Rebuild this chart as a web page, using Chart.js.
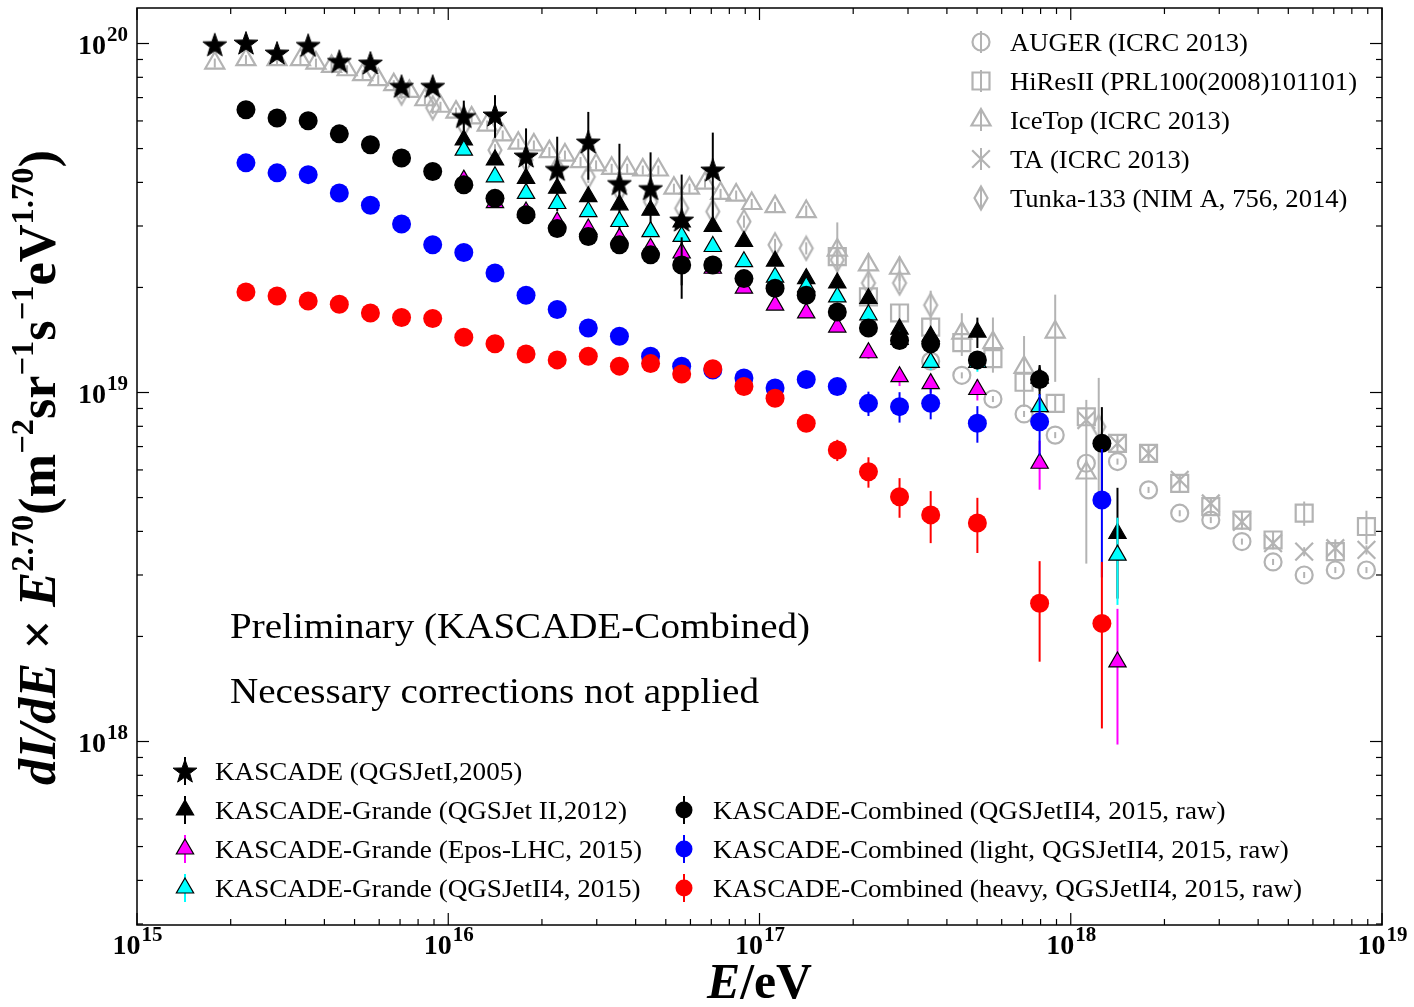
<!DOCTYPE html>
<html>
<head>
<meta charset="utf-8">
<script src="https://cdn.jsdelivr.net/npm/chart.js@4.4.0/dist/chart.umd.min.js"></script>
<style>
html,body{margin:0;padding:0;background:#fff;}
#wrap{position:relative;width:1414px;height:1007px;}
</style>
</head>
<body>
<div id="wrap"><canvas id="c" width="1414" height="1007"></canvas></div>
<script>
// ---------------- DATA ----------------
const xTickExp = ['15', '16', '17', '18', '19'];
const yTickExp = ['18', '19', '20'];

// KASCADE (QGSJetI, 2005)
const kascadeE = [1.778e15, 2.239e15, 2.818e15, 3.548e15, 4.467e15, 5.623e15, 7.079e15, 8.913e15, 1.122e16, 1.413e16, 1.778e16, 2.239e16, 2.818e16, 3.548e16, 4.467e16, 5.623e16, 7.079e16];
const kascadeFlux = [9.92e19, 1.003e20, 9.39e19, 9.88e19, 8.89e19, 8.79e19, 7.54e19, 7.54e19, 6.18e19, 6.24e19, 4.76e19, 4.36e19, 5.22e19, 3.97e19, 3.84e19, 3.12e19, 4.34e19];
const kascadeErr = [0, 0, 0, 0, 0, 0, 0.02, 0.02, 0.11, 0.14, 0.2, 0.24, 0.22, 0.3, 0.27, 0.35, 0.28];

// KASCADE-Grande energies (shared by the three Grande series)
const grandeE = [1.122e16, 1.413e16, 1.778e16, 2.239e16, 2.818e16, 3.548e16, 4.467e16, 5.623e16, 7.079e16, 8.913e16, 1.122e17, 1.413e17, 1.778e17, 2.239e17, 2.818e17, 3.548e17, 5.012e17, 7.943e17, 1.413e18];
const grandeQ2Flux = [5.29e19, 4.64e19, 4.11e19, 3.85e19, 3.64e19, 3.45e19, 3.33e19, 3.08e19, 2.99e19, 2.71e19, 2.38e19, 2.12e19, 2.06e19, 1.86e19, 1.52e19, 1.45e19, 1.49e19, 1.10e19, 3.95e18];
const grandeQ2Err = [0.03, 0.03, 0.03, 0.03, 0.03, 0.03, 0.03, 0.03, 0.03, 0.03, 0.03, 0.03, 0.04, 0.04, 0.05, 0.05, 0.1, 0.08, 0.35];
const grandeEposFlux = [4.06e19, 3.50e19, 3.29e19, 3.08e19, 2.94e19, 2.77e19, 2.59e19, 2.51e19, 2.27e19, 1.99e19, 1.78e19, 1.69e19, 1.54e19, 1.30e19, 1.11e19, 1.06e19, 1.02e19, 6.27e18, 1.69e18];
const grandeEposErr = [0.02, 0.02, 0.02, 0.02, 0.02, 0.02, 0.02, 0.02, 0.02, 0.02, 0.02, 0.02, 0.03, 0.04, 0.06, 0.06, 0.07, 0.16, 0.42];
const grandeQ4Flux = [4.95e19, 4.15e19, 3.72e19, 3.48e19, 3.30e19, 3.09e19, 2.89e19, 2.80e19, 2.62e19, 2.37e19, 2.14e19, 2.01e19, 1.88e19, 1.67e19, 1.42e19, 1.22e19, 1.22e19, 9.11e18, 3.42e18];
const grandeQ4Err = [0.02, 0.02, 0.02, 0.02, 0.02, 0.02, 0.02, 0.02, 0.02, 0.02, 0.02, 0.02, 0.03, 0.03, 0.04, 0.05, 0.06, 0.08, 0.28];

// KASCADE-Combined energies (shared)
const combinedE = [2.239e15, 2.818e15, 3.548e15, 4.467e15, 5.623e15, 7.079e15, 8.913e15, 1.122e16, 1.413e16, 1.778e16, 2.239e16, 2.818e16, 3.548e16, 4.467e16, 5.623e16, 7.079e16, 8.913e16, 1.122e17, 1.413e17, 1.778e17, 2.239e17, 2.818e17, 3.548e17, 5.012e17, 7.943e17, 1.259e18];
const combinedFlux = [6.46e19, 6.12e19, 6.01e19, 5.51e19, 5.13e19, 4.70e19, 4.30e19, 3.94e19, 3.60e19, 3.23e19, 2.95e19, 2.80e19, 2.65e19, 2.48e19, 2.32e19, 2.32e19, 2.12e19, 1.99e19, 1.90e19, 1.70e19, 1.53e19, 1.41e19, 1.38e19, 1.24e19, 1.09e19, 7.15e18];
const combinedErr = [0, 0, 0, 0, 0, 0, 0, 0, 0, 0, 0, 0, 0, 0, 0.2, 0.03, 0.03, 0.03, 0.03, 0.03, 0.04, 0.05, 0.05, 0.06, 0.1, 0.27];
const lightFlux = [4.55e19, 4.26e19, 4.21e19, 3.73e19, 3.44e19, 3.04e19, 2.65e19, 2.52e19, 2.20e19, 1.90e19, 1.73e19, 1.53e19, 1.45e19, 1.27e19, 1.19e19, 1.16e19, 1.10e19, 1.03e19, 1.09e19, 1.04e19, 9.31e18, 9.11e18, 9.31e18, 8.16e18, 8.25e18, 4.92e18];
const lightErr = [0, 0, 0, 0, 0, 0, 0, 0, 0, 0, 0, 0, 0, 0, 0, 0, 0, 0.02, 0.02, 0.03, 0.08, 0.1, 0.1, 0.12, 0.2, 0.4];
const heavyFlux = [1.94e19, 1.89e19, 1.83e19, 1.79e19, 1.69e19, 1.64e19, 1.63e19, 1.44e19, 1.38e19, 1.29e19, 1.24e19, 1.27e19, 1.19e19, 1.21e19, 1.13e19, 1.17e19, 1.04e19, 9.63e18, 8.16e18, 6.84e18, 5.93e18, 5.03e18, 4.46e18, 4.23e18, 2.49e18, 2.18e18];
const heavyErr = [0, 0, 0, 0, 0, 0, 0, 0, 0, 0, 0, 0, 0, 0, 0, 0, 0, 0, 0.03, 0.07, 0.1, 0.13, 0.17, 0.18, 0.32, 0.5];

// AUGER (ICRC 2013)
const augerE = [3.548e17, 4.467e17, 5.623e17, 7.079e17, 8.913e17, 1.122e18, 1.413e18, 1.778e18, 2.239e18, 2.818e18, 3.548e18, 4.467e18, 5.623e18, 7.079e18, 8.913e18];
const augerFlux = [1.23e19, 1.12e19, 9.58e18, 8.68e18, 7.55e18, 6.27e18, 6.34e18, 5.26e18, 4.51e18, 4.31e18, 3.74e18, 3.27e18, 3.00e18, 3.10e18, 3.10e18];
const augerErr = [0.02, 0.02, 0.02, 0.02, 0.02, 0.02, 0.02, 0.02, 0.02, 0.02, 0.02, 0.02, 0.02, 0.02, 0.02];

// HiResII
const hiresE = [1.778e17, 2.239e17, 2.818e17, 3.548e17, 4.467e17, 5.623e17, 7.079e17, 8.913e17, 1.122e18, 1.413e18, 1.778e18, 2.239e18, 2.818e18, 3.548e18, 4.467e18, 5.623e18, 7.079e18, 8.913e18];
const hiresFlux = [2.45e19, 1.88e19, 1.69e19, 1.54e19, 1.39e19, 1.25e19, 1.07e19, 9.31e18, 8.52e18, 7.15e18, 6.69e18, 5.49e18, 4.71e18, 4.31e18, 3.78e18, 4.51e18, 3.50e18, 4.13e18];
const hiresErr = [0.06, 0.06, 0.06, 0.06, 0.06, 0.06, 0.06, 0.06, 0.06, 0.06, 0.06, 0.06, 0.06, 0.06, 0.06, 0.08, 0.06, 0.11];

// IceTop (ICRC 2013)
const icetopE = [1.778e15, 2.239e15, 2.818e15, 3.350e15, 3.758e15, 4.217e15, 4.732e15, 5.309e15, 5.957e15, 6.683e15, 7.499e15, 8.414e15, 9.441e15, 1.059e16, 1.189e16, 1.334e16, 1.496e16, 1.679e16, 1.884e16, 2.113e16, 2.371e16, 2.661e16, 2.985e16, 3.350e16, 3.758e16, 4.217e16, 4.732e16, 5.309e16, 5.957e16, 6.683e16, 7.499e16, 8.414e16, 9.441e16, 1.122e17, 1.413e17, 1.778e17, 2.239e17, 2.818e17, 4.467e17, 5.623e17, 7.079e17, 8.913e17, 1.122e18];
const icetopFlux = [8.79e19, 8.99e19, 8.99e19, 8.99e19, 8.79e19, 8.60e19, 8.41e19, 8.14e19, 7.88e19, 7.62e19, 7.29e19, 6.90e19, 6.61e19, 6.36e19, 6.12e19, 5.84e19, 5.47e19, 5.18e19, 5.12e19, 4.90e19, 4.79e19, 4.59e19, 4.49e19, 4.39e19, 4.39e19, 4.34e19, 4.34e19, 3.85e19, 3.85e19, 3.98e19, 3.72e19, 3.68e19, 3.48e19, 3.41e19, 3.30e19, 2.56e19, 2.32e19, 2.27e19, 1.48e19, 1.39e19, 1.18e19, 1.49e19, 5.88e18];
const icetopErr = [0.03, 0.03, 0.03, 0.03, 0.03, 0.03, 0.03, 0.03, 0.03, 0.03, 0.03, 0.03, 0.03, 0.03, 0.03, 0.03, 0.03, 0.03, 0.03, 0.03, 0.03, 0.03, 0.03, 0.03, 0.03, 0.03, 0.03, 0.03, 0.03, 0.03, 0.03, 0.03, 0.03, 0.03, 0.04, 0.2, 0.08, 0.08, 0.14, 0.18, 0.23, 0.28, [0.45, 0.62]];

// TA (ICRC 2013)
const taE = [1.122e18, 1.413e18, 1.778e18, 2.239e18, 2.818e18, 3.548e18, 4.467e18, 5.623e18, 7.079e18, 8.913e18];
const taFlux = [8.34e18, 7.15e18, 6.69e18, 5.62e18, 4.81e18, 4.26e18, 3.70e18, 3.50e18, 3.58e18, 3.54e18];
const taErr = [0.03, 0.03, 0.03, 0.03, 0.03, 0.03, 0.03, 0.03, 0.06, 0.03];

// Tunka-133
const tunkaE = [7.079e15, 8.913e15, 1.122e16, 1.413e16, 1.778e16, 2.239e16, 2.818e16, 3.548e16, 4.467e16, 5.623e16, 7.079e16, 8.913e16, 1.122e17, 1.413e17, 1.778e17, 2.239e17, 2.818e17, 3.548e17, 1.230e18];
const tunkaFlux = [7.21e19, 6.54e19, 5.84e19, 4.95e19, 4.64e19, 4.40e19, 4.15e19, 3.80e19, 3.52e19, 3.37e19, 3.30e19, 3.09e19, 2.65e19, 2.59e19, 2.40e19, 2.06e19, 2.06e19, 1.78e19, 7.98e18];
const tunkaErr = [0.04, 0.04, 0.04, 0.04, 0.04, 0.04, 0.04, 0.04, 0.04, 0.04, 0.04, 0.04, 0.04, 0.04, 0.05, 0.05, 0.05, 0.1, 0.38];

// ---------------- STYLE / HELPERS ----------------
const SERIF = '"Liberation Serif", "DejaVu Serif", serif';
const GRAY = '#b3b3b3';

function makeCanvas(w, h, draw) {
  const c = document.createElement('canvas');
  c.width = w; c.height = h;
  draw(c.getContext('2d'));
  return c;
}
const starImg = makeCanvas(28, 28, g => {
  g.beginPath();
  for (let i = 0; i < 10; i++) {
    const r = i % 2 === 0 ? 12.5 : 5.0;
    const a = -Math.PI / 2 + i * Math.PI / 5;
    const px = 14 + r * Math.cos(a), py = 15 + r * Math.sin(a);
    if (i === 0) g.moveTo(px, py); else g.lineTo(px, py);
  }
  g.closePath();
  g.fillStyle = '#000'; g.fill();
  g.lineWidth = 1; g.strokeStyle = '#000'; g.stroke();
});
const diamondImg = makeCanvas(18, 28, g => {
  g.beginPath();
  g.moveTo(9, 2.5); g.lineTo(15.5, 14); g.lineTo(9, 25.5); g.lineTo(2.5, 14);
  g.closePath();
  g.strokeStyle = GRAY; g.lineWidth = 2.2; g.stroke();
});

function mk(label, E, F, errs, style) {
  return Object.assign({
    label: label,
    data: E.map((e, i) => ({ x: e, y: F[i] })),
    errs: errs,
    showLine: false,
  }, style);
}

const datasets = [
  mk('KASCADE-Combined (heavy, QGSJetII4, 2015, raw)', combinedE, heavyFlux, heavyErr,
     { pointStyle: 'circle', pointRadius: 9.5, backgroundColor: '#ff0000', borderColor: '#ff0000', borderWidth: 0, errColor: '#ff0000', order: 1 }),
  mk('KASCADE-Combined (light, QGSJetII4, 2015, raw)', combinedE, lightFlux, lightErr,
     { pointStyle: 'circle', pointRadius: 9.5, backgroundColor: '#0000ff', borderColor: '#0000ff', borderWidth: 0, errColor: '#0000ff', order: 2 }),
  mk('KASCADE-Combined (QGSJetII4, 2015, raw)', combinedE, combinedFlux, combinedErr,
     { pointStyle: 'circle', pointRadius: 9.5, backgroundColor: '#000000', borderColor: '#000000', borderWidth: 0, errColor: '#000000', order: 3 }),
  mk('KASCADE-Grande (QGSJetII4, 2015)', grandeE, grandeQ4Flux, grandeQ4Err,
     { pointStyle: 'triangle', pointRadius: 10, backgroundColor: '#00ffff', borderColor: '#000000', borderWidth: 1.2, errColor: '#00ffff', order: 4 }),
  mk('KASCADE-Grande (Epos-LHC, 2015)', grandeE, grandeEposFlux, grandeEposErr,
     { pointStyle: 'triangle', pointRadius: 10, backgroundColor: '#ff00ff', borderColor: '#000000', borderWidth: 1.2, errColor: '#ff00ff', order: 5 }),
  mk('KASCADE (QGSJetI,2005)', kascadeE, kascadeFlux, kascadeErr,
     { pointStyle: starImg, pointRadius: 12, backgroundColor: '#000', borderColor: '#000', borderWidth: 1, errColor: '#000000', order: 6 }),
  mk('KASCADE-Grande (QGSJet II,2012)', grandeE, grandeQ2Flux, grandeQ2Err,
     { pointStyle: 'triangle', pointRadius: 10, backgroundColor: '#000000', borderColor: '#000000', borderWidth: 1.2, errColor: '#000000', order: 7 }),
  mk('IceTop (ICRC 2013)', icetopE, icetopFlux, icetopErr,
     { pointStyle: 'triangle', pointRadius: 11, backgroundColor: 'rgba(0,0,0,0)', borderColor: GRAY, borderWidth: 2.2, errColor: GRAY, order: 8 }),
  mk('Tunka-133 (NIM A, 756, 2014)', tunkaE, tunkaFlux, tunkaErr,
     { pointStyle: diamondImg, pointRadius: 11, backgroundColor: 'rgba(0,0,0,0)', borderColor: GRAY, borderWidth: 2.2, errColor: GRAY, order: 9 }),
  mk('HiResII (PRL100(2008)101101)', hiresE, hiresFlux, hiresErr,
     { pointStyle: 'rect', pointRadius: 12, backgroundColor: 'rgba(0,0,0,0)', borderColor: GRAY, borderWidth: 2.2, errColor: GRAY, order: 10 }),
  mk('AUGER (ICRC 2013)', augerE, augerFlux, augerErr,
     { pointStyle: 'circle', pointRadius: 8.5, backgroundColor: 'rgba(0,0,0,0)', borderColor: GRAY, borderWidth: 2.2, errColor: GRAY, order: 11 }),
  mk('TA (ICRC 2013)', taE, taFlux, taErr,
     { pointStyle: 'crossRot', pointRadius: 12.5, backgroundColor: 'rgba(0,0,0,0)', borderColor: GRAY, borderWidth: 2.2, errColor: GRAY, order: 12 }),
];
datasets.forEach(d => { d.pointHoverRadius = d.pointRadius; d.pointBorderWidth = d.borderWidth; });

const legendGray = ['AUGER (ICRC 2013)', 'HiResII (PRL100(2008)101101)', 'IceTop (ICRC 2013)', 'TA (ICRC 2013)', 'Tunka-133 (NIM A, 756, 2014)'];
const legendLeft = ['KASCADE (QGSJetI,2005)', 'KASCADE-Grande (QGSJet II,2012)', 'KASCADE-Grande (Epos-LHC, 2015)', 'KASCADE-Grande (QGSJetII4, 2015)'];
const legendRight = ['KASCADE-Combined (QGSJetII4, 2015, raw)', 'KASCADE-Combined (light, QGSJetII4, 2015, raw)', 'KASCADE-Combined (heavy, QGSJetII4, 2015, raw)'];

// ---------------- PLUGINS ----------------
const errorBars = {
  id: 'errorBars',
  beforeDatasetDraw(chart, args) {
    const ds = chart.data.datasets[args.index];
    if (!ds.errs) return;
    const ctx = chart.ctx, a = chart.chartArea, xs = chart.scales.x, ys = chart.scales.y;
    ctx.save();
    ctx.beginPath(); ctx.rect(a.left, a.top, a.right - a.left, a.bottom - a.top); ctx.clip();
    ctx.strokeStyle = ds.errColor; ctx.lineWidth = 2;
    ds.data.forEach((p, i) => {
      const e = ds.errs[i];
      if (!e) return;
      const lo = Array.isArray(e) ? e[0] : e, hi = Array.isArray(e) ? e[1] : e;
      const px = xs.getPixelForValue(p.x);
      const top = ys.getPixelForValue(p.y * (1 + hi));
      const bot = lo < 1 ? ys.getPixelForValue(p.y * (1 - lo)) : a.bottom;
      ctx.beginPath(); ctx.moveTo(px, top); ctx.lineTo(px, bot); ctx.stroke();
    });
    ctx.restore();
  }
};

function runFont(r, B) { const sz = r[2] ? B * 0.62 : B; return r[1] + ' ' + sz + 'px ' + SERIF; }
function runsWidth(ctx, runs, B) { let w = 0; runs.forEach(r => { ctx.font = runFont(r, B); w += ctx.measureText(r[0]).width; }); return w; }
function drawRuns(ctx, runs, B) {
  let x = 0;
  runs.forEach(r => {
    ctx.font = runFont(r, B);
    ctx.fillText(r[0], x, r[2] ? -B * 0.42 : 0);
    x += ctx.measureText(r[0]).width;
  });
}
function fitText(ctx, text, x, y, font, target) {
  ctx.font = font;
  const w = ctx.measureText(text).width;
  ctx.save(); ctx.translate(x, y); ctx.scale(target / w, 1); ctx.fillText(text, 0, 0); ctx.restore();
}

function legendMarker(ctx, ds, x, y, lineHalf) {
  ctx.save();
  ctx.strokeStyle = ds.errColor; ctx.lineWidth = 2;
  ctx.beginPath(); ctx.moveTo(x, y - lineHalf); ctx.lineTo(x, y + lineHalf); ctx.stroke();
  ctx.fillStyle = ds.backgroundColor; ctx.strokeStyle = ds.borderColor; ctx.lineWidth = ds.borderWidth;
  const r = ds.pointStyle === 'circle' && ds.errColor !== GRAY ? 8.5 : ds.pointRadius;
  Chart.helpers.drawPoint(ctx, { pointStyle: ds.pointStyle, radius: r, rotation: 0, borderWidth: ds.borderWidth }, x, y);
  ctx.restore();
}

function drawLegend(ctx, labels, mx, tx, y0, dy, targetW, lineHalf) {
  const font = '25px ' + SERIF;
  ctx.font = font;
  let maxW = 0;
  labels.forEach(l => { maxW = Math.max(maxW, ctx.measureText(l).width); });
  const sx = targetW / maxW;
  labels.forEach((l, i) => {
    const ds = datasets.find(d => d.label === l);
    const y = y0 + i * dy;
    legendMarker(ctx, ds, mx, y, lineHalf);
    ctx.fillStyle = '#000';
    ctx.font = font;
    ctx.save(); ctx.translate(tx, y + 9); ctx.scale(sx, 1); ctx.fillText(l, 0, 0); ctx.restore();
  });
}

const decor = {
  id: 'decor',
  afterDatasetsDraw(chart) {
    const ctx = chart.ctx, a = chart.chartArea, xs = chart.scales.x, ys = chart.scales.y;
    ctx.save();
    // frame
    ctx.strokeStyle = '#000'; ctx.lineWidth = 1.5;
    ctx.strokeRect(a.left, a.top, a.right - a.left, a.bottom - a.top);
    ctx.lineWidth = 1.2;
    const seg = (x1, y1, x2, y2) => { ctx.beginPath(); ctx.moveTo(x1, y1); ctx.lineTo(x2, y2); ctx.stroke(); };
    // x ticks (major + minor), inward on top and bottom
    xTickExp.forEach(ex => {
      const d = Number(ex);
      for (let m = 1; m <= 9; m++) {
        const v = m * Math.pow(10, d);
        if (v > xs.max * 1.0001) break;
        const px = xs.getPixelForValue(v), L = m === 1 ? 12 : 6;
        seg(px, a.bottom, px, a.bottom - L); seg(px, a.top, px, a.top + L);
      }
    });
    // y ticks
    ['17'].concat(yTickExp).forEach(ex => {
      const d = Number(ex);
      for (let m = 1; m <= 9; m++) {
        const v = m * Math.pow(10, d);
        if (v < ys.min || v > ys.max) continue;
        const py = ys.getPixelForValue(v), L = m === 1 ? 12 : 6;
        seg(a.left, py, a.left + L, py); seg(a.right, py, a.right - L, py);
      }
    });
    // tick labels
    ctx.fillStyle = '#000';
    const bigF = 'bold 28px ' + SERIF, supF = 'bold 21px ' + SERIF;
    xTickExp.forEach(ex => {
      const px = xs.getPixelForValue(Math.pow(10, Number(ex)));
      ctx.font = bigF; const w1 = ctx.measureText('10').width;
      ctx.font = supF; const w2 = ctx.measureText(ex).width;
      const x0 = px - (w1 + w2) / 2;
      ctx.font = bigF; ctx.fillText('10', x0, 954);
      ctx.font = supF; ctx.fillText(ex, x0 + w1 + 1, 941);
    });
    yTickExp.forEach(ex => {
      const py = ys.getPixelForValue(Math.pow(10, Number(ex)));
      ctx.font = bigF; const w1 = ctx.measureText('10').width;
      ctx.font = supF; const w2 = ctx.measureText(ex).width;
      const x0 = 128 - w1 - w2 - 1;
      ctx.font = bigF; ctx.fillText('10', x0, py + 10);
      ctx.font = supF; ctx.fillText(ex, x0 + w1 + 1, py - 3);
    });
    // x title
    const xRuns = [['E', 'italic bold', 0], ['/eV', 'bold', 0]];
    let B = 36 * 105 / runsWidth(ctx, xRuns, 36);
    ctx.save(); ctx.translate(707, 998); drawRuns(ctx, xRuns, B); ctx.restore();
    // y title
    const yRuns = [['dI/dE', 'italic bold', 0], [' × ', 'bold', 0], ['E', 'italic bold', 0], ['2.70', 'bold', 1],
                   ['(m', 'bold', 0], ['−2', 'bold', 1], ['sr', 'bold', 0], ['−1', 'bold', 1], ['s', 'bold', 0],
                   ['−1', 'bold', 1], ['eV', 'bold', 0], ['1.70', 'bold', 1], [')', 'bold', 0]];
    B = 36 * 635 / runsWidth(ctx, yRuns, 36);
    ctx.save(); ctx.translate(55, 785); ctx.rotate(-Math.PI / 2); drawRuns(ctx, yRuns, B); ctx.restore();
    // annotation
    fitText(ctx, 'Preliminary (KASCADE-Combined)', 230, 638, '36px ' + SERIF, 580);
    fitText(ctx, 'Necessary corrections not applied', 230, 703, '36px ' + SERIF, 529);
    // legends
    drawLegend(ctx, legendGray, 981, 1010, 42, 39, 347, 11);
    drawLegend(ctx, legendLeft, 185, 215, 771, 39, 427, 14);
    drawLegend(ctx, legendRight, 684, 713, 810, 39, 589, 14);
    ctx.restore();
  }
};

// ---------------- CHART ----------------
new Chart(document.getElementById('c'), {
  type: 'scatter',
  data: { datasets: datasets },
  options: {
    responsive: false,
    devicePixelRatio: 1,
    animation: false,
    events: [],
    layout: { autoPadding: false, padding: { left: 137, right: 32, top: 8, bottom: 82 } },
    plugins: { legend: { display: false }, tooltip: { enabled: false } },
    scales: {
      x: { type: 'logarithmic', min: 1e15, max: 1e19, display: false },
      y: { type: 'logarithmic', min: 2.98e17, max: 1.264e20, display: false }
    }
  },
  plugins: [errorBars, decor]
});
</script>
</body>
</html>
